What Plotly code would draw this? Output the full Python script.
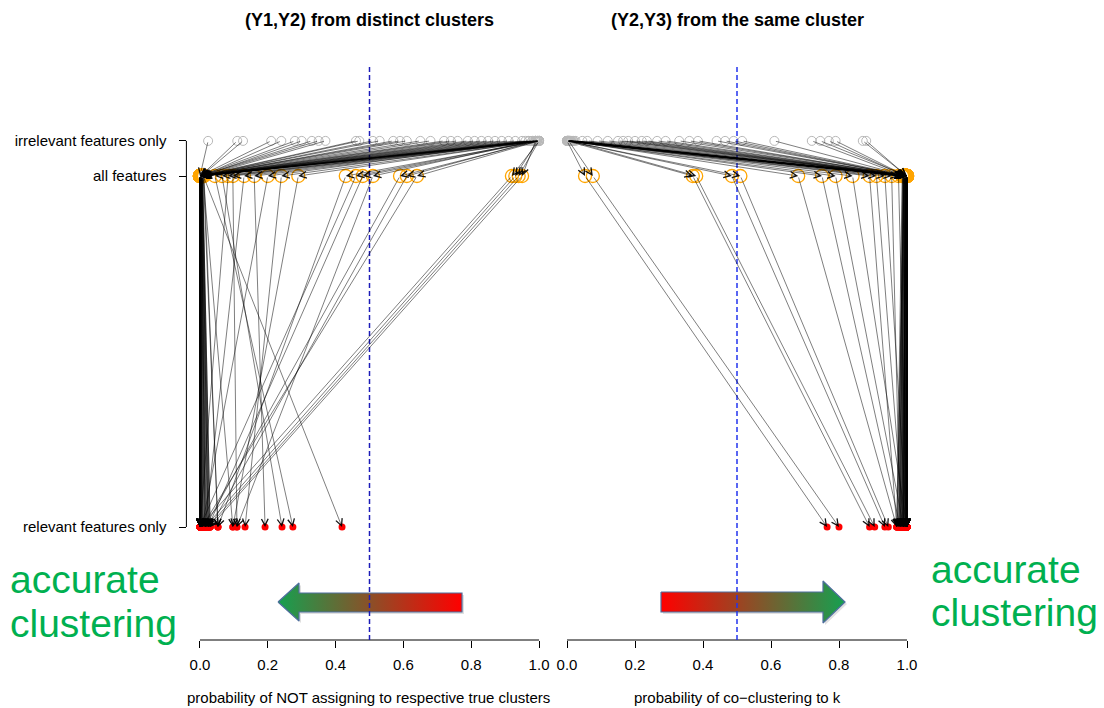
import plotly.graph_objects as go

# page has an 8px body margin: figure is drawn 8px in from the window corner
OFF = 8
W, H = 1104 - OFF, 708 - OFF

# ---------------- data ----------------
level_labels = ["relevant features only", "all features", "irrelevant features only"]
level_y = [0.0, 1.0, 1.1]
x_ticks = [0.0, 0.2, 0.4, 0.6, 0.8, 1.0]
x_tick_labels = ["0.0", "0.2", "0.4", "0.6", "0.8", "1.0"]

left_title = "(Y1,Y2) from distinct clusters"
right_title = "(Y2,Y3) from the same cluster"
left_xlabel = "probability of NOT assigning to respective true clusters"
right_xlabel = "probability of co\u2212clustering to k"
side_text = ["accurate", "clustering"]

# left panel: value of each observation with irrelevant / all / relevant features
left_irr = [0.024, 0.11, 0.127, 0.21, 0.24, 0.28, 0.30, 0.33, 0.35, 0.37,
            0.46, 0.47, 0.51, 0.53, 0.57, 0.59, 0.61, 0.65, 0.68, 0.72,
            0.74, 0.76, 0.79, 0.81, 0.83, 0.85, 0.87, 0.89, 0.91, 0.93,
            0.95, 0.96, 0.97, 0.98, 0.99, 1.0, 1.0, 0.995,
            1.0, 0.99, 1.0, 0.98, 1.0, 0.99, 1.0, 0.97, 1.0, 0.995,
            1.0, 0.99, 1.0, 0.985, 1.0, 0.99, 1.0, 1.0, 0.995, 1.0, 0.99]
left_all = [0.0, 0.002, 0.004, 0.0, 0.006, 0.001, 0.008, 0.0, 0.003, 0.01,
            0.0, 0.005, 0.002, 0.0, 0.007, 0.001, 0.004, 0.0, 0.009, 0.003,
            0.0, 0.006, 0.002, 0.012, 0.0, 0.004, 0.001, 0.008, 0.0, 0.003,
            0.005, 0.0, 0.002, 0.007, 0.0, 0.001, 0.004, 0.0,
            0.01, 0.044, 0.065, 0.083, 0.097, 0.13, 0.16, 0.20, 0.24, 0.29,
            0.43, 0.46, 0.48, 0.51, 0.59, 0.61, 0.64, 0.92, 0.93, 0.94, 0.95]
left_rel = [0.0, 0.006, 0.015, 0.0, 0.024, 0.003, 0.03, 0.0, 0.012, 0.053,
            0.0, 0.02, 0.006, 0.0, 0.028, 0.004, 0.015, 0.0, 0.097, 0.009,
            0.0, 0.024, 0.006, 0.053, 0.0, 0.018, 0.003, 0.03, 0.0, 0.012,
            0.022, 0.0, 0.008, 0.026, 0.0, 0.004, 0.016, 0.0,
            0.419, 0.274, 0.242, 0.0, 0.109, 0.015, 0.192, 0.006, 0.133, 0.097,
            0.053, 0.0, 0.024, 0.109, 0.015, 0.03, 0.006, 0.0, 0.015, 0.024, 0.03]

# right panel
right_irr = [0.0, 0.002, 0.004, 0.006, 0.0, 0.008, 0.01, 0.003, 0.012, 0.0,
             0.015, 0.005, 0.018, 0.001, 0.02, 0.007, 0.025,
             0.045, 0.06, 0.09, 0.12, 0.15, 0.165, 0.18, 0.2, 0.22, 0.235,
             0.265, 0.29, 0.33, 0.36, 0.385, 0.44, 0.465, 0.49, 0.515, 0.61,
             0.72, 0.745, 0.77, 0.79, 0.87, 0.88,
             0.0, 0.005, 0.0, 0.01, 0.003, 0.0, 0.008, 0.002, 0.0, 0.012,
             0.004, 0.0, 0.006, 0.001, 0.0]
right_all = [1.0, 0.996, 0.99, 1.0, 0.993, 0.998, 0.987, 1.0, 0.995, 0.991,
             1.0, 0.997, 0.989, 1.0, 0.994, 0.999, 0.986,
             1.0, 0.996, 0.992, 1.0, 0.998, 0.988, 1.0, 0.995, 0.99, 1.0,
             0.997, 0.993, 1.0, 0.999, 0.991, 1.0, 0.996, 0.994, 1.0, 0.998,
             0.992, 1.0, 0.995, 0.997, 1.0, 0.999,
             0.053, 0.076, 0.37, 0.38, 0.485, 0.51, 0.68, 0.75, 0.79, 0.84,
             0.89, 0.91, 0.935, 0.955, 0.975]
right_rel = [1.0, 0.99, 0.98, 1.0, 0.995, 0.985, 0.975, 1.0, 0.99, 0.97,
             1.0, 0.993, 0.98, 1.0, 0.988, 0.996, 0.97,
             1.0, 0.99, 0.983, 1.0, 0.995, 0.978, 1.0, 0.992, 0.986, 1.0,
             0.997, 0.981, 1.0, 0.994, 0.972, 1.0, 0.989, 0.984, 1.0, 0.996,
             0.976, 1.0, 0.991, 0.987, 1.0, 0.998,
             0.765, 0.80, 0.89, 0.905, 0.935, 0.945, 0.97, 0.98, 0.99, 1.0,
             0.97, 0.99, 1.0, 0.98, 1.0]

# ---------------- layout geometry (window pixels) ----------------
def px_x(p):
    return (p - OFF) / W

def px_y(p):
    return 1 - (p - OFF) / H

FONT = "Liberation Sans, Arial, Helvetica, sans-serif"
left_dom = [px_x(186.4), px_x(552.6)]
right_dom = [px_x(553.4), px_x(920.6)]
y_dom = [px_y(640), px_y(65)]
y_range = [-113 / 351, 1 + 111 / 351]
x_range = [-0.04, 1.04]

fig = go.Figure()
annotations = []

ARROW = dict(text="", showarrow=True, arrowhead=5, arrowsize=2.4, arrowwidth=0.55,
             arrowcolor="rgba(0,0,0,0.92)", standoff=0, startstandoff=0)


def add_panel(xa, irr, allf, rel):
    fig.add_trace(go.Scatter(x=irr, y=[level_y[2]] * len(irr), xaxis=xa, yaxis="y",
                             mode="markers", cliponaxis=False, hoverinfo="skip", showlegend=False,
                             marker=dict(symbol="circle-open", size=9, color="#b8b8b8",
                                         line=dict(width=1))))
    fig.add_trace(go.Scatter(x=allf, y=[level_y[1]] * len(allf), xaxis=xa, yaxis="y",
                             mode="markers", cliponaxis=False, hoverinfo="skip", showlegend=False,
                             marker=dict(symbol="circle-open", size=13, color="orange",
                                         line=dict(width=1.3))))
    fig.add_trace(go.Scatter(x=rel, y=[level_y[0]] * len(rel), xaxis=xa, yaxis="y",
                             mode="markers", cliponaxis=False, hoverinfo="skip", showlegend=False,
                             marker=dict(symbol="circle", size=7, color="red")))
    for a, b, c in zip(irr, allf, rel):
        if a != b:
            annotations.append(dict(ARROW, x=b, y=level_y[1], ax=a, ay=level_y[2],
                                    xref=xa, yref="y", axref=xa, ayref="y"))
        annotations.append(dict(ARROW, x=c, y=level_y[0], ax=b, ay=level_y[1],
                                xref=xa, yref="y", axref=xa, ayref="y"))


add_panel("x", left_irr, left_all, left_rel)
add_panel("x2", right_irr, right_all, right_rel)

# ---------------- gradient arrows (decoration, window-pixel overlay axes) ----------------
GREEN = "rgb(22,160,80)"
RED = "rgb(255,0,0)"
left_arrow_x = [278, 299, 299, 462, 462, 299, 299, 278]
left_arrow_y = [602, 583, 593, 593, 612, 612, 621, 602]
right_arrow_x = [661, 823, 823, 845, 823, 823, 661, 661]
right_arrow_y = [592, 592, 581, 602, 623, 612, 612, 592]

for xs, ys, cs in [(left_arrow_x, left_arrow_y, [[0, GREEN], [1, RED]]),
                   (right_arrow_x, right_arrow_y, [[0, RED], [1, GREEN]])]:
    fig.add_trace(go.Scatter(x=[v + 2 for v in xs], y=[v + 2 for v in ys], xaxis="x3", yaxis="y3",
                             mode="lines", fill="toself", fillcolor="rgba(0,0,0,0.12)",
                             line=dict(width=0), hoverinfo="skip", showlegend=False))
    fig.add_trace(go.Scatter(x=xs, y=ys, xaxis="x3", yaxis="y3", mode="lines", fill="toself",
                             fillgradient=dict(type="horizontal", colorscale=cs),
                             line=dict(color="#4e6e9e", width=1.2),
                             hoverinfo="skip", showlegend=False))

# ---------------- shapes ----------------
shapes = [
    dict(type="line", xref="paper", yref="y", x0=left_dom[0], x1=left_dom[0],
         y0=level_y[0], y1=level_y[2], line=dict(color="black", width=1)),
    dict(type="line", xref="x", yref="paper", x0=0, x1=1, y0=y_dom[0], y1=y_dom[0],
         line=dict(color="black", width=1)),
    dict(type="line", xref="x2", yref="paper", x0=0, x1=1, y0=y_dom[0], y1=y_dom[0],
         line=dict(color="black", width=1)),
    dict(type="line", xref="x", yref="paper", x0=0.5, x1=0.5, y0=y_dom[0], y1=y_dom[1],
         line=dict(color="#1c1cb8", width=1.5, dash="5px,3px")),
    dict(type="line", xref="x2", yref="paper", x0=0.5, x1=0.5, y0=y_dom[0], y1=y_dom[1],
         line=dict(color="#2233ee", width=1.5, dash="5px,3px")),
]

# ---------------- text ----------------
for title, xc in [(left_title, 369.5), (right_title, 737)]:
    annotations.append(dict(text="<b>" + title + "</b>", x=px_x(xc), y=px_y(20),
                            xref="paper", yref="paper", showarrow=False,
                            xanchor="center", yanchor="middle",
                            font=dict(family=FONT, size=18, color="black")))
for label, xc in [(left_xlabel, 368), (right_xlabel, 737)]:
    annotations.append(dict(text=label, x=px_x(xc), y=px_y(697), xref="paper", yref="paper",
                            showarrow=False, xanchor="center", yanchor="middle",
                            font=dict(family=FONT, size=15, color="black")))
for x0, ys in [(8, [579, 623]), (929, [569, 612])]:
    for word, yc in zip(side_text, ys):
        annotations.append(dict(text=word, x=px_x(x0), y=px_y(yc), xref="paper", yref="paper",
                                showarrow=False, xanchor="left", yanchor="middle",
                                font=dict(family=FONT, size=39, color="#00b050")))

axis_common = dict(range=x_range, tickvals=x_ticks, ticktext=x_tick_labels, ticks="outside",
                   ticklen=7, tickwidth=1, tickcolor="black", showline=False, showgrid=False,
                   zeroline=False, tickfont=dict(family=FONT, size=15, color="black"),
                   anchor="y", ticklabelstandoff=4)

fig.update_layout(
    width=W, height=H, margin=dict(l=0, r=0, t=0, b=0),
    paper_bgcolor="white", plot_bgcolor="rgba(0,0,0,0)",
    xaxis=dict(axis_common, domain=left_dom),
    xaxis2=dict(axis_common, domain=right_dom),
    yaxis=dict(domain=y_dom, range=y_range, anchor="free", position=left_dom[0],
               tickvals=level_y, ticktext=level_labels, ticks="outside", ticklen=7,
               tickwidth=1, tickcolor="black", showline=False, showgrid=False, zeroline=False,
               tickfont=dict(family=FONT, size=15, color="black"), ticklabelstandoff=10),
    xaxis3=dict(domain=[0, 1], range=[OFF, OFF + W], visible=False, anchor="y3", fixedrange=True),
    yaxis3=dict(domain=[0, 1], range=[OFF + H, OFF], visible=False, anchor="x3", fixedrange=True),
    shapes=shapes,
    annotations=annotations,
    showlegend=False,
)

fig.write_html("out.html")
